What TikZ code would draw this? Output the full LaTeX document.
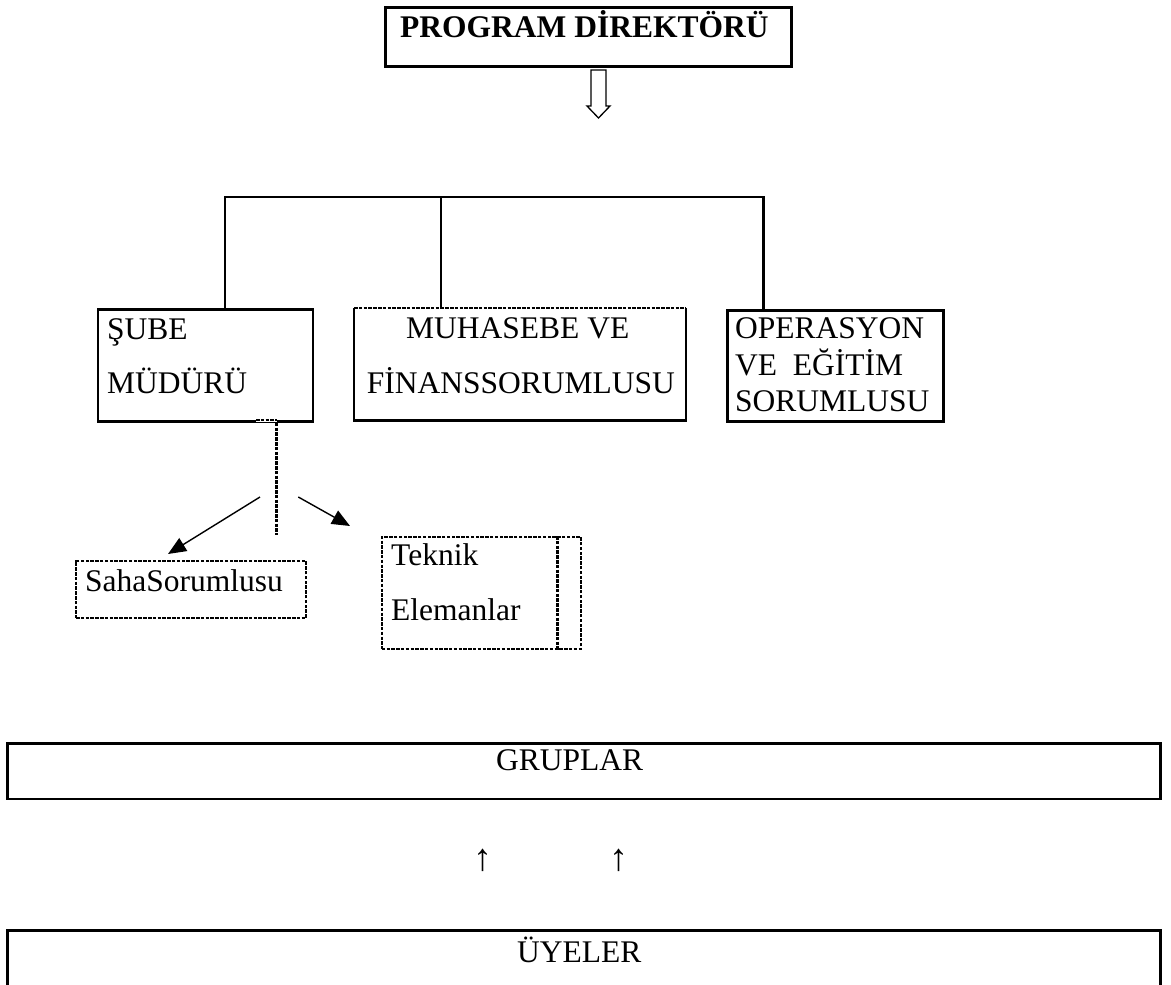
\documentclass[tikz,border=0pt]{standalone}
\usepackage{fontspec}
\setmainfont{Liberation Serif}
\usepackage{tikz}
\usetikzlibrary{arrows.meta}
\tikzset{
	kutu/.style={draw, line width=2.5pt, inner sep=0pt, anchor=north west},
	bos/.style={inner sep=0pt, anchor=north west},
	kesik/.style={line width=2pt, dash pattern=on 3.5pt off 1.3pt},
	kesikkutu/.style={kutu, kesik},
	yazi/.style={inner sep=0pt, anchor=base west, font=\fontsize{31.5}{37}\selectfont},
	cizgi/.style={line width=2.2pt},
	ok/.style={line width=1.4pt, -{Triangle[length=18pt,width=15pt]}}
}
\newcommand{\yazi}[4] % {isim}{x}{y}{metin}
{
	\node [yazi] (#1) at (#2,#3) {#4};
}

\begin{document}
\begin{tikzpicture}[x=1pt,y=-1pt]
		\useasboundingbox (0,0) rectangle (1171,985);
		\clip (0,0) rectangle (1171,985);

		% ust kutu
		\node [kutu, minimum width=406pt, minimum height=59pt] (direktor) at (384,6) {};
		\yazi{direktorY}{400}{37}{\textbf{PROGRAM DİREKTÖRÜ}}
		\draw [line width=1.3pt] (591,70) -- (591,106) -- (587,106) -- (598.5,118) -- (610,106) -- (606,106) -- (606,70) -- cycle;

		% ikinci kademe
		\node [kutu, minimum width=215pt, minimum height=112pt] (sube) at (96.7,308.3) {};
		\node [bos, minimum width=331.7pt, minimum height=111.7pt] (muhasebe) at (354,308.3) {};
		\draw [line width=2.5pt] (muhasebe.north east) -- (muhasebe.south east) -- (muhasebe.south west) -- (muhasebe.north west);
		\draw [kesik] (muhasebe.north west) -- (muhasebe.north east);
		\node [kutu, minimum width=216pt, minimum height=111pt] (operasyon) at (726,309) {};

		\yazi{subeA}{107}{339}{ŞUBE}
		\yazi{subeB}{107}{393}{MÜDÜRÜ}
		\yazi{muhA}{406}{338}{MUHASEBE VE}
		\yazi{muhB}{366.7}{393}{FİNANSSORUMLUSU}
		\yazi{opA}{735}{338}{OPERASYON}
		\yazi{opB}{735}{375}{VE\ \ EĞİTİM}
		\yazi{opC}{735}{411}{SORUMLUSU}

		\coordinate (solust) at (225,197.3);
		\coordinate (ortaust) at (440.7,197.3);
		\coordinate (sagust) at (763.5,197.3);
		\draw [cizgi] (sube.north -| solust) -- (solust) -- (sagust) -- (operasyon.north -| sagust);
		\draw [cizgi] (ortaust) -- (muhasebe.north -| ortaust);

		% sube alti
		\draw [white, line width=3pt] (256,420) -- (276.7,420);
		\draw [kesik] (256,420) -- (276.7,420);
		\coordinate (kolalt) at (276.7,535);
		\draw [kesik, line width=2.6pt] (sube.south -| kolalt) -- (kolalt);

		\coordinate (solok) at (260,497);
		\coordinate (soluc) at (168,554);
		\coordinate (sagok) at (298.3,497);
		\coordinate (saguc) at (350,526);
		\draw [ok] (solok) -- (soluc);
		\draw [ok] (sagok) -- (saguc);

		\node [kesikkutu, minimum width=230pt, minimum height=57pt] (saha) at (75,560) {};
		\yazi{sahaY}{85}{591}{SahaSorumlusu}
		\node [kesikkutu, minimum width=199.3pt, minimum height=111.5pt] (teknik) at (380.7,536) {};
		\coordinate (ic) at (557.7,0);
		\draw [kesik, line width=2.8pt] (teknik.north -| ic) -- (teknik.south -| ic);
		\yazi{teknikA}{391}{565}{Teknik}
		\yazi{teknikB}{391}{620}{Elemanlar}

		% alt kutular
		\node [kutu, minimum width=1153pt, minimum height=55.5pt] (gruplar) at (6,742) {};
		\yazi{gruplarY}{496}{770}{GRUPLAR}
		\node [yazi, anchor=base, font=\fontsize{38}{40}\selectfont] (okA) at (483,870) {↑};
		\node [yazi, anchor=base, font=\fontsize{38}{40}\selectfont] (okB) at (619,870) {↑};
		\node [kutu, minimum width=1153pt, minimum height=90pt] (uyeler) at (6,929.3) {};
		\yazi{uyelerY}{517}{962}{ÜYELER}
	\end{tikzpicture}
\end{document}
